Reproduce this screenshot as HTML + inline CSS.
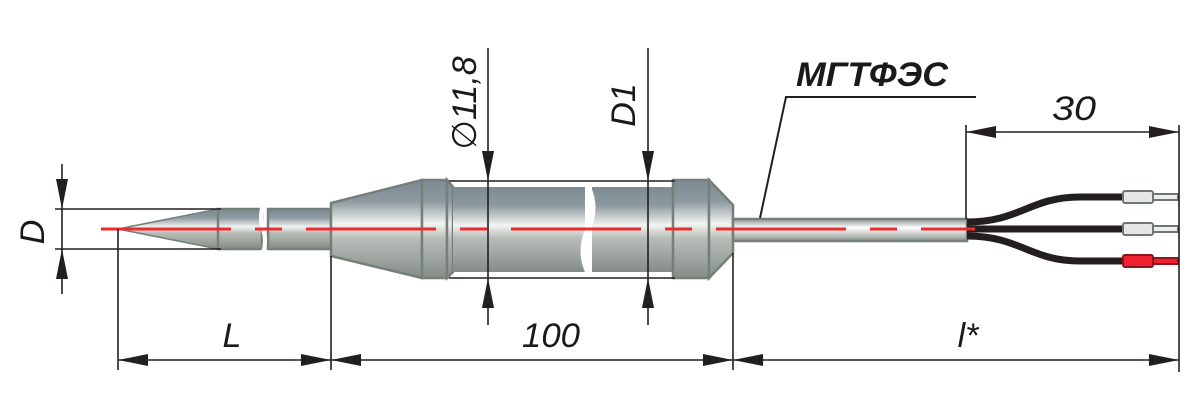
<!DOCTYPE html>
<html><head><meta charset="utf-8"><style>
html,body{margin:0;padding:0;background:#fff;width:1200px;height:400px;overflow:hidden}
text{font-family:"Liberation Sans","DejaVu Sans",sans-serif;font-style:italic;fill:#1a1a1a}
</style></head><body>
<svg width="1200" height="400" viewBox="0 0 1200 400" xmlns="http://www.w3.org/2000/svg">
<defs>
<linearGradient id="m" x1="0" y1="0" x2="0" y2="1">
<stop offset="0" stop-color="#7c8a92"/><stop offset="0.22" stop-color="#8e9aa0"/>
<stop offset="0.45" stop-color="#f2f4f2"/><stop offset="0.6" stop-color="#b8bdb8"/>
<stop offset="1" stop-color="#858c86"/></linearGradient>
<linearGradient id="c" x1="0" y1="0" x2="0" y2="1">
<stop offset="0" stop-color="#8b9596"/><stop offset="0.4" stop-color="#ffffff"/>
<stop offset="0.7" stop-color="#c4c8c4"/><stop offset="1" stop-color="#8a928c"/></linearGradient>
</defs>
<g stroke="#75807a" stroke-width="2.5" fill="url(#m)">
<!-- tip cone -->
<path d="M118 229 L218 209 L218 249 Z" stroke-width="1.5"/>
<rect x="218" y="209" width="44" height="40"/>
<rect x="268" y="209" width="63" height="40"/>
<!-- cone -->
<path d="M331 203 L422 180 L422 278 L331 256 Z"/>
<rect x="422" y="180" width="25" height="98"/>
<path d="M447 180 L453 187 L453 272 L447 278 Z"/>
<rect x="453" y="187" width="132" height="85" stroke="none"/>
<rect x="592" y="187" width="81" height="85" stroke="none"/>
<rect x="673" y="180" width="36" height="98"/>
<path d="M709 180 L733 205 L733 253 L709 278 Z"/>
<rect x="733" y="219" width="234" height="22" fill="url(#c)"/>
</g>
<!-- break gaps -->
<path d="M263 205 q-4 12 0 24 q4 12 0 24" stroke="#fff" stroke-width="4" fill="none"/>
<path d="M588 186 q10 22 0 43 q-10 22 0 44" stroke="#fff" stroke-width="5" fill="none"/>
<!-- wires -->
<g stroke="#231f20" stroke-width="7" fill="none">
<path d="M967 222 C1020 222,1030 197,1080 197 L1125 197"/>
<path d="M967 229 L1125 229"/>
<path d="M967 236 C1020 236,1030 261,1080 261 L1125 261"/>
</g>
<g stroke="#6e7672" stroke-width="2">
<rect x="1123" y="191" width="30" height="12" rx="2" fill="#e6e6e6"/>
<rect x="1153" y="194" width="25" height="6" fill="#eee"/>
<rect x="1123" y="223" width="30" height="12" rx="2" fill="#e6e6e6"/>
<rect x="1153" y="226" width="25" height="6" fill="#eee"/>
</g>
<g stroke="#8e1520" stroke-width="2" fill="#ee2230">
<rect x="1123" y="255" width="30" height="12" rx="2"/>
<rect x="1153" y="258" width="25" height="6"/>
</g>
<!-- centerline -->
<line x1="101" y1="229" x2="975" y2="229" stroke="#ee2b2b" stroke-width="3" stroke-dasharray="130,24,27,24" />
<!-- dimension lines -->
<g stroke="#231f20" stroke-width="1.6" fill="none">
<line x1="55" y1="209" x2="221" y2="209"/><line x1="55" y1="249" x2="221" y2="249"/>
<line x1="62" y1="164" x2="62" y2="294"/>
<line x1="449" y1="181" x2="675" y2="181"/><line x1="449" y1="278" x2="675" y2="278"/>
<line x1="488" y1="48" x2="488" y2="325"/><line x1="648" y1="48" x2="648" y2="325"/>
<line x1="118" y1="229" x2="118" y2="370"/><line x1="331" y1="256" x2="331" y2="370"/>
<line x1="733" y1="253" x2="733" y2="370"/><line x1="1179" y1="125" x2="1179" y2="372"/>
<line x1="966" y1="125" x2="966" y2="219"/>
<line x1="118" y1="360" x2="1179" y2="360"/>
<line x1="966" y1="132" x2="1179" y2="132"/>
<polyline points="760,218 786,97 976,97" stroke-width="2"/>
</g>
<g fill="#231f20">
<path d="M62 209 l-6 -30 l12 0 Z"/><path d="M62 249 l-6 30 l12 0 Z"/>
<path d="M488 181 l-6 -30 l12 0 Z"/><path d="M488 278 l-6 30 l12 0 Z"/>
<path d="M648 181 l-6 -30 l12 0 Z"/><path d="M648 278 l-6 30 l12 0 Z"/>
<path d="M118 360 l30 -6 l0 12 Z"/><path d="M331 360 l-30 -6 l0 12 Z"/>
<path d="M331 360 l30 -6 l0 12 Z"/><path d="M733 360 l-30 -6 l0 12 Z"/>
<path d="M733 360 l30 -6 l0 12 Z"/><path d="M1179 360 l-30 -6 l0 12 Z"/>
<path d="M966 132 l30 -6 l0 12 Z"/><path d="M1179 132 l-30 -6 l0 12 Z"/>
</g>
<g font-size="34">
<text x="44" y="232" transform="rotate(-90 44 232)" text-anchor="middle">D</text>
<text x="476" y="103" transform="rotate(-90 476 103)" text-anchor="middle">∅11,8</text>
<text x="635" y="105" transform="rotate(-90 635 105)" text-anchor="middle">D1</text>
<text x="232" y="347" text-anchor="middle" textLength="22">L</text>
<text x="551" y="347" text-anchor="middle" textLength="58" lengthAdjust="spacingAndGlyphs">100</text>
<text x="968" y="347" text-anchor="middle">l*</text>
<text x="1074" y="120" text-anchor="middle" textLength="44" lengthAdjust="spacingAndGlyphs">30</text>
<text x="872" y="86" text-anchor="middle" font-weight="bold" textLength="152" lengthAdjust="spacingAndGlyphs">МГТФЭС</text>
</g>
</svg>
</body></html>
